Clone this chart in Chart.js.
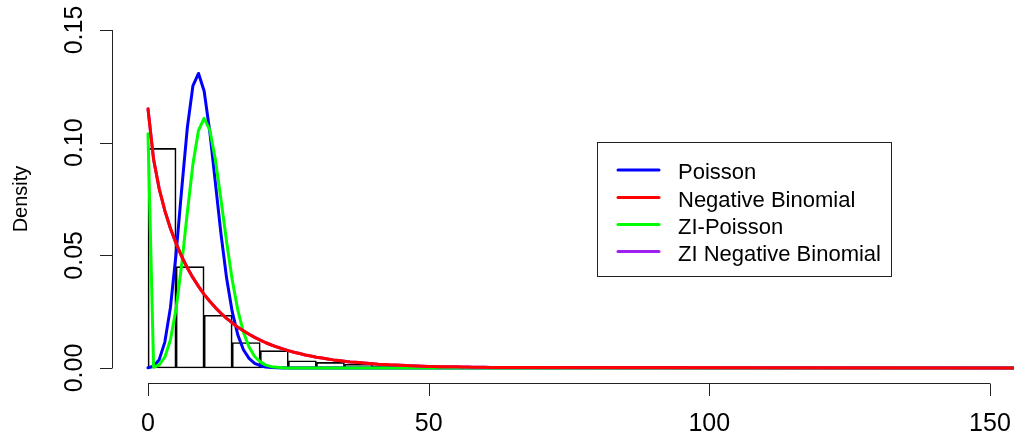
<!DOCTYPE html>
<html>
<head>
<meta charset="utf-8">
<script src="https://cdn.jsdelivr.net/npm/chart.js@4.4.0/dist/chart.umd.min.js"></script>
<style>
  body { margin: 0; background: #fff; }
  #wrap { width: 1014px; height: 438px; position: relative; }
</style>
</head>
<body>
<div id="wrap"><canvas id="myChart"></canvas></div>
<script>
// histogram: bins of width 5, density per bin
const histBreaks = [0, 5, 10, 15, 20, 25, 30, 35, 40, 45, 50, 55, 60, 65];
const histDensity = [0.0975, 0.0450, 0.0234, 0.0113, 0.0077, 0.0032, 0.0025, 0.0017, 0.0010, 0.0006, 0.0004, 0.0003, 0.0002];

// fitted densities, one value per count 0,1,2,...
const poisDensity = [0.0001, 0.0008, 0.0037, 0.0115, 0.0269, 0.0506, 0.0793, 0.1065, 0.1252, 0.1307,
  0.1229, 0.1050, 0.0823, 0.0595, 0.0399, 0.0250, 0.0147, 0.0081, 0.0043, 0.0021,
  0.0010, 0.0004, 0.0002, 0.0001, 0];
const nbDensity = [0.1150, 0.0925, 0.0795, 0.0698, 0.0619, 0.0553, 0.0495, 0.0445, 0.0401, 0.0362,
  0.0327, 0.0296, 0.0268, 0.0243, 0.0220, 0.0200, 0.0181, 0.0165, 0.0150, 0.0136,
  0.0124, 0.0112, 0.0102, 0.0093, 0.0085, 0.0077, 0.0070, 0.0064, 0.0058, 0.0053,
  0.0048, 0.0044, 0.0040, 0.0036, 0.0033, 0.0030, 0.0027, 0.0025, 0.0023, 0.0021,
  0.0019, 0.0017, 0.0016, 0.0014, 0.0013, 0.0012, 0.0011, 0.0010, 0.0009, 0.0008,
  0.0007, 0.0007, 0.0006, 0.0006, 0.0005, 0.0005, 0.0004, 0.0004, 0.0003, 0.0003,
  0.0003, 0.0002, 0.0002, 0.0002, 0.0002];
const zipDensity = [0.1040, 0.0003, 0.0014, 0.0048, 0.0125, 0.0262, 0.0459, 0.0689, 0.0904, 0.1055,
  0.1108, 0.1057, 0.0925, 0.0747, 0.0560, 0.0392, 0.0257, 0.0159, 0.0093, 0.0051,
  0.0027, 0.0013, 0.0006, 0.0003, 0.0001, 0];
// ZI negative binomial lies right under the NB curve
const zinbDensity = nbDensity;
const maxCount = 156;   // curves run flat along zero out to here

const xTicks = [0, 50, 100, 150];
const yTicks = [0.00, 0.05, 0.10, 0.15];
const yTickLabels = ['0.00', '0.05', '0.10', '0.15'];
const seriesNames = ['Poisson', 'Negative Binomial', 'ZI-Poisson', 'ZI Negative Binomial'];
const seriesColors = ['#0000FF', '#FF0000', '#00FF00', '#A020F0'];

const FONT = '"Liberation Sans", Arial, sans-serif';

function curve(values) {
  var pts = values.map(function (v, k) { return { x: k, y: v }; });
  pts.push({ x: maxCount, y: 0 });
  return pts;
}

var histPoints = [];
for (var i = 0; i < histDensity.length; i++) {
  histPoints.push({ x: (histBreaks[i] + histBreaks[i + 1]) / 2, y: histDensity[i] });
}

function lineSet(idx, values, order) {
  return {
    type: 'line',
    label: seriesNames[idx],
    data: curve(values),
    borderColor: seriesColors[idx],
    borderWidth: 3,
    borderCapStyle: 'round',
    borderJoinStyle: 'round',
    pointRadius: 0,
    tension: 0,
    fill: false,
    order: order
  };
}

// R style axes: line only from first to last tick, rotated y labels
const rAxes = {
  id: 'rAxes',
  afterDraw(chart) {
    var ctx = chart.ctx, xs = chart.scales.x, ys = chart.scales.y, a = chart.chartArea;
    ctx.save();
    ctx.strokeStyle = '#222';
    ctx.lineWidth = 1;
    ctx.fillStyle = '#000';
    ctx.font = '25px ' + FONT;

    var yLine = Math.round(a.bottom) + 1.5;
    var x0 = xs.getPixelForValue(xTicks[0]), x1 = xs.getPixelForValue(xTicks[xTicks.length - 1]);
    ctx.beginPath();
    ctx.moveTo(x0, yLine); ctx.lineTo(x1, yLine);
    xTicks.forEach(function (t) {
      var px = Math.round(xs.getPixelForValue(t)) + 0.5;
      ctx.moveTo(px, yLine); ctx.lineTo(px, yLine + 12.5);
    });
    ctx.stroke();
    ctx.textAlign = 'center';
    ctx.textBaseline = 'alphabetic';
    xTicks.forEach(function (t) {
      ctx.fillText(String(t), xs.getPixelForValue(t), 431);
    });

    var xLine = Math.round(a.left) - 1.5;
    var yb = ys.getPixelForValue(yTicks[0]), yt = ys.getPixelForValue(yTicks[yTicks.length - 1]);
    ctx.beginPath();
    ctx.moveTo(xLine, yb); ctx.lineTo(xLine, yt);
    yTicks.forEach(function (t) {
      var py = Math.round(ys.getPixelForValue(t)) + 0.5;
      ctx.moveTo(xLine, py); ctx.lineTo(xLine - 12.5, py);
    });
    ctx.stroke();
    yTicks.forEach(function (t, i) {
      ctx.save();
      ctx.translate(81.5, ys.getPixelForValue(t));
      ctx.rotate(-Math.PI / 2);
      ctx.fillText(yTickLabels[i], 0, 0);
      ctx.restore();
    });

    // axis title
    ctx.font = '20px ' + FONT;
    ctx.save();
    ctx.translate(27, (a.top + a.bottom) / 2);
    ctx.rotate(-Math.PI / 2);
    ctx.fillText('Density', 0, 0);
    ctx.restore();
    ctx.restore();
  }
};

// boxed legend like R's legend()
const boxLegend = {
  id: 'boxLegend',
  afterDraw(chart) {
    var ctx = chart.ctx;
    ctx.save();
    ctx.strokeStyle = '#222';
    ctx.lineWidth = 1;
    ctx.strokeRect(597.5, 142.5, 294, 134);
    ctx.font = '22px ' + FONT;
    ctx.textAlign = 'left';
    ctx.textBaseline = 'alphabetic';
    ctx.fillStyle = '#000';
    var rows = [170, 197.5, 224.5, 251.5];
    seriesNames.forEach(function (name, i) {
      ctx.beginPath();
      ctx.strokeStyle = seriesColors[i];
      ctx.lineWidth = 3;
      ctx.lineCap = 'round';
      ctx.moveTo(618, rows[i]); ctx.lineTo(659, rows[i]);
      ctx.stroke();
      ctx.fillText(name, 678, rows[i] + 9);
    });
    ctx.restore();
  }
};

var ctx = document.getElementById('myChart').getContext('2d');
var myChart = new Chart(ctx, {
  type: 'bar',
  data: {
    datasets: [
      {
        type: 'bar',
        label: 'hist',
        data: histPoints,
        backgroundColor: 'rgba(0,0,0,0)',
        borderColor: '#000',
        borderWidth: 1,
        borderSkipped: false,
        barPercentage: 1,
        categoryPercentage: 1,
        order: 5
      },
      lineSet(0, poisDensity, 4),
      lineSet(2, zipDensity, 3),
      lineSet(3, zinbDensity, 2),
      lineSet(1, nbDensity, 1)
    ]
  },
  options: {
    responsive: true,
    maintainAspectRatio: false,
    animation: false,
    layout: { padding: { left: 114.32, right: 0, top: 16.48, bottom: 56.48 } },
    scales: {
      x: { type: 'linear', min: -6, max: 154.28, offset: false, display: false },
      y: { type: 'linear', min: -0.006, max: 0.156, display: false }
    },
    plugins: {
      legend: { display: false },
      tooltip: { enabled: false }
    }
  },
  plugins: [rAxes, boxLegend]
});
</script>
</body>
</html>
